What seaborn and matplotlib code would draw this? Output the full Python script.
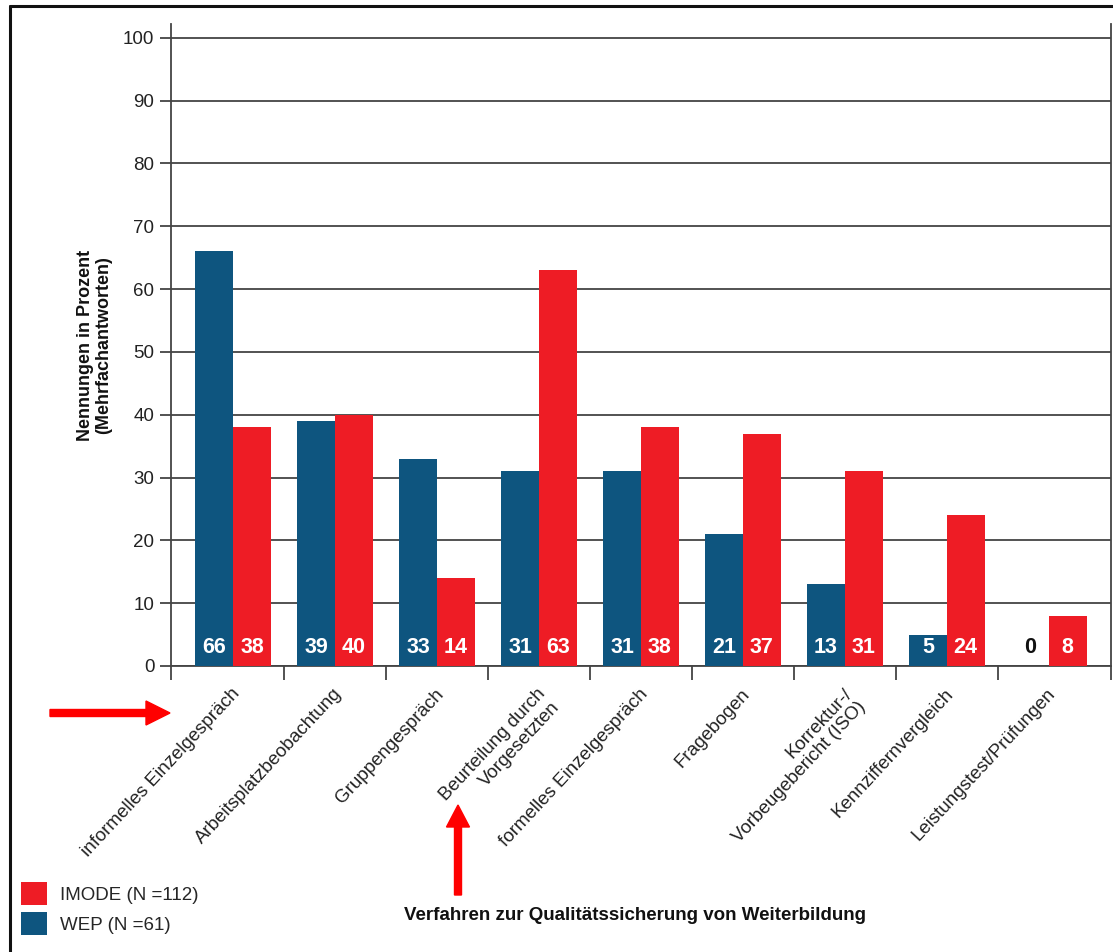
import matplotlib
matplotlib.use("Agg")
import matplotlib.pyplot as plt
import matplotlib.transforms as mtransforms
from matplotlib.lines import Line2D
from matplotlib.patches import Patch, FancyArrow
import seaborn as sns
import pandas as pd

categories = [
    "informelles Einzelgespräch",
    "Arbeitsplatzbeobachtung",
    "Gruppengespräch",
    "Beurteilung durch\nVorgesetzten",
    "formelles Einzelgespräch",
    "Fragebogen",
    "Korrektur-/\nVorbeugebericht (ISO)",
    "Kennziffernvergleich",
    "Leistungstest/Prüfungen",
]
wep = [66, 39, 33, 31, 31, 21, 13, 5, 0]
imode = [38, 40, 14, 63, 38, 37, 31, 24, 8]
series_names = ["WEP", "IMODE"]
legend_labels = {"IMODE": "IMODE (N =112)", "WEP": "WEP (N =61)"}
yticks = list(range(0, 101, 10))

BLUE = "#0E557F"
RED = "#EE1C25"
W, H = 1113, 952

sns.set_theme(style="white")
plt.rcParams["font.family"] = ["Liberation Sans Narrow", "Liberation Sans", "DejaVu Sans"]

df = pd.DataFrame({
    "Verfahren": categories * 2,
    "Gruppe": ["WEP"] * len(categories) + ["IMODE"] * len(categories),
    "Wert": wep + imode,
})

fig = plt.figure(figsize=(W / 100, H / 100), dpi=100)
ax = fig.add_axes([171 / W, 1 - 666 / H, (1111 - 171) / W, (666 - 24) / H])

sns.barplot(data=df, x="Verfahren", y="Wert", hue="Gruppe", hue_order=series_names,
            order=categories, palette=[BLUE, RED], width=0.74, saturation=1,
            linewidth=0, legend=False, ax=ax, zorder=3)

n = len(categories)
edge = 0.61
ax.set_ylim(0, 102.2)
ax.set_xlim(-edge, n - 1 + edge)
ax.set_yticks(yticks)
ax.set_yticklabels([str(t) for t in yticks], fontsize=13.5, color="#222222")
ax.yaxis.grid(True, color="#444444", linewidth=1.3, zorder=0)
ax.set_axisbelow(True)
ax.tick_params(axis="y", length=8, width=1.3, color="#444444", direction="out", pad=4, left=True)

# tick marks separate the groups; the labels sit under each group
ax.set_xticks([-edge] + [i + 0.5 for i in range(n - 1)] + [n - 1 + edge])
ax.set_xticklabels([])
ax.tick_params(axis="x", length=10, width=1.3, color="#444444", direction="out", bottom=True)
ax.set_xticks(range(n), minor=True)
ax.set_xticklabels(categories, minor=True, rotation=47, ha="right", va="top",
                   rotation_mode="anchor", fontsize=13.5, color="#222222",
                   multialignment="right", linespacing=1.15)
ax.tick_params(axis="x", which="minor", length=0, pad=14)
shift = mtransforms.ScaledTranslation(-0.02, 0, fig.dpi_scale_trans)
for lbl in ax.get_xticklabels(minor=True):
    lbl.set_transform(lbl.get_transform() + shift)

for side in ["left", "right", "bottom"]:
    ax.spines[side].set_visible(True)
    ax.spines[side].set_color("#444444")
    ax.spines[side].set_linewidth(1.3)
ax.spines["top"].set_visible(False)

ax.set_xlabel("")
ax.set_ylabel("Nennungen in Prozent\n(Mehrfachantworten)", fontsize=13, fontweight="bold",
              color="#111111", labelpad=8, linespacing=1.05)

# values written inside the bars near the baseline
for container, values in zip(ax.containers, [wep, imode]):
    for bar, v in zip(container, values):
        ax.text(bar.get_x() + bar.get_width() / 2, 3.0, str(v), ha="center", va="center",
                fontsize=15.5, fontweight="bold", color="white" if v > 0 else "#111111", zorder=5)

# axis title below the category labels
fig.text(635 / W, 1 - 915 / H, "Verfahren zur Qualitätssicherung von Weiterbildung",
         ha="center", va="center", fontsize=13.5, fontweight="bold", color="#111111")

# legend in the lower left corner
handles = [Patch(facecolor=RED, edgecolor="none"), Patch(facecolor=BLUE, edgecolor="none")]
fig.legend(handles, [legend_labels["IMODE"], legend_labels["WEP"]], loc="lower left",
           bbox_to_anchor=(4 / W, 0.0), frameon=False, fontsize=13.5,
           handlelength=1.4, handleheight=1.5, handletextpad=0.7, labelspacing=0.4)

# highlight arrows (pixel geometry converted to figure fractions)
fig.patches.append(FancyArrow(
    50 / W, 1 - 713 / H, 96 / W, 0, width=7 / H, head_width=24 / H,
    head_length=24 / W, length_includes_head=False, color="#FF0000",
    transform=fig.transFigure, figure=fig))
fig.patches.append(FancyArrow(
    458 / W, 1 - 895 / H, 0, 68 / H, width=7 / W, head_width=23 / W,
    head_length=22 / H, length_includes_head=False, color="#FF0000",
    transform=fig.transFigure, figure=fig))

# outer frame lines
fig.add_artist(Line2D([10 / W, 1.0], [1 - 6 / H] * 2, transform=fig.transFigure,
                      color="#111111", linewidth=2.2))
fig.add_artist(Line2D([10 / W] * 2, [0.0, 1 - 6 / H], transform=fig.transFigure,
                      color="#111111", linewidth=2.2))

fig.savefig("out.png", dpi=100)
